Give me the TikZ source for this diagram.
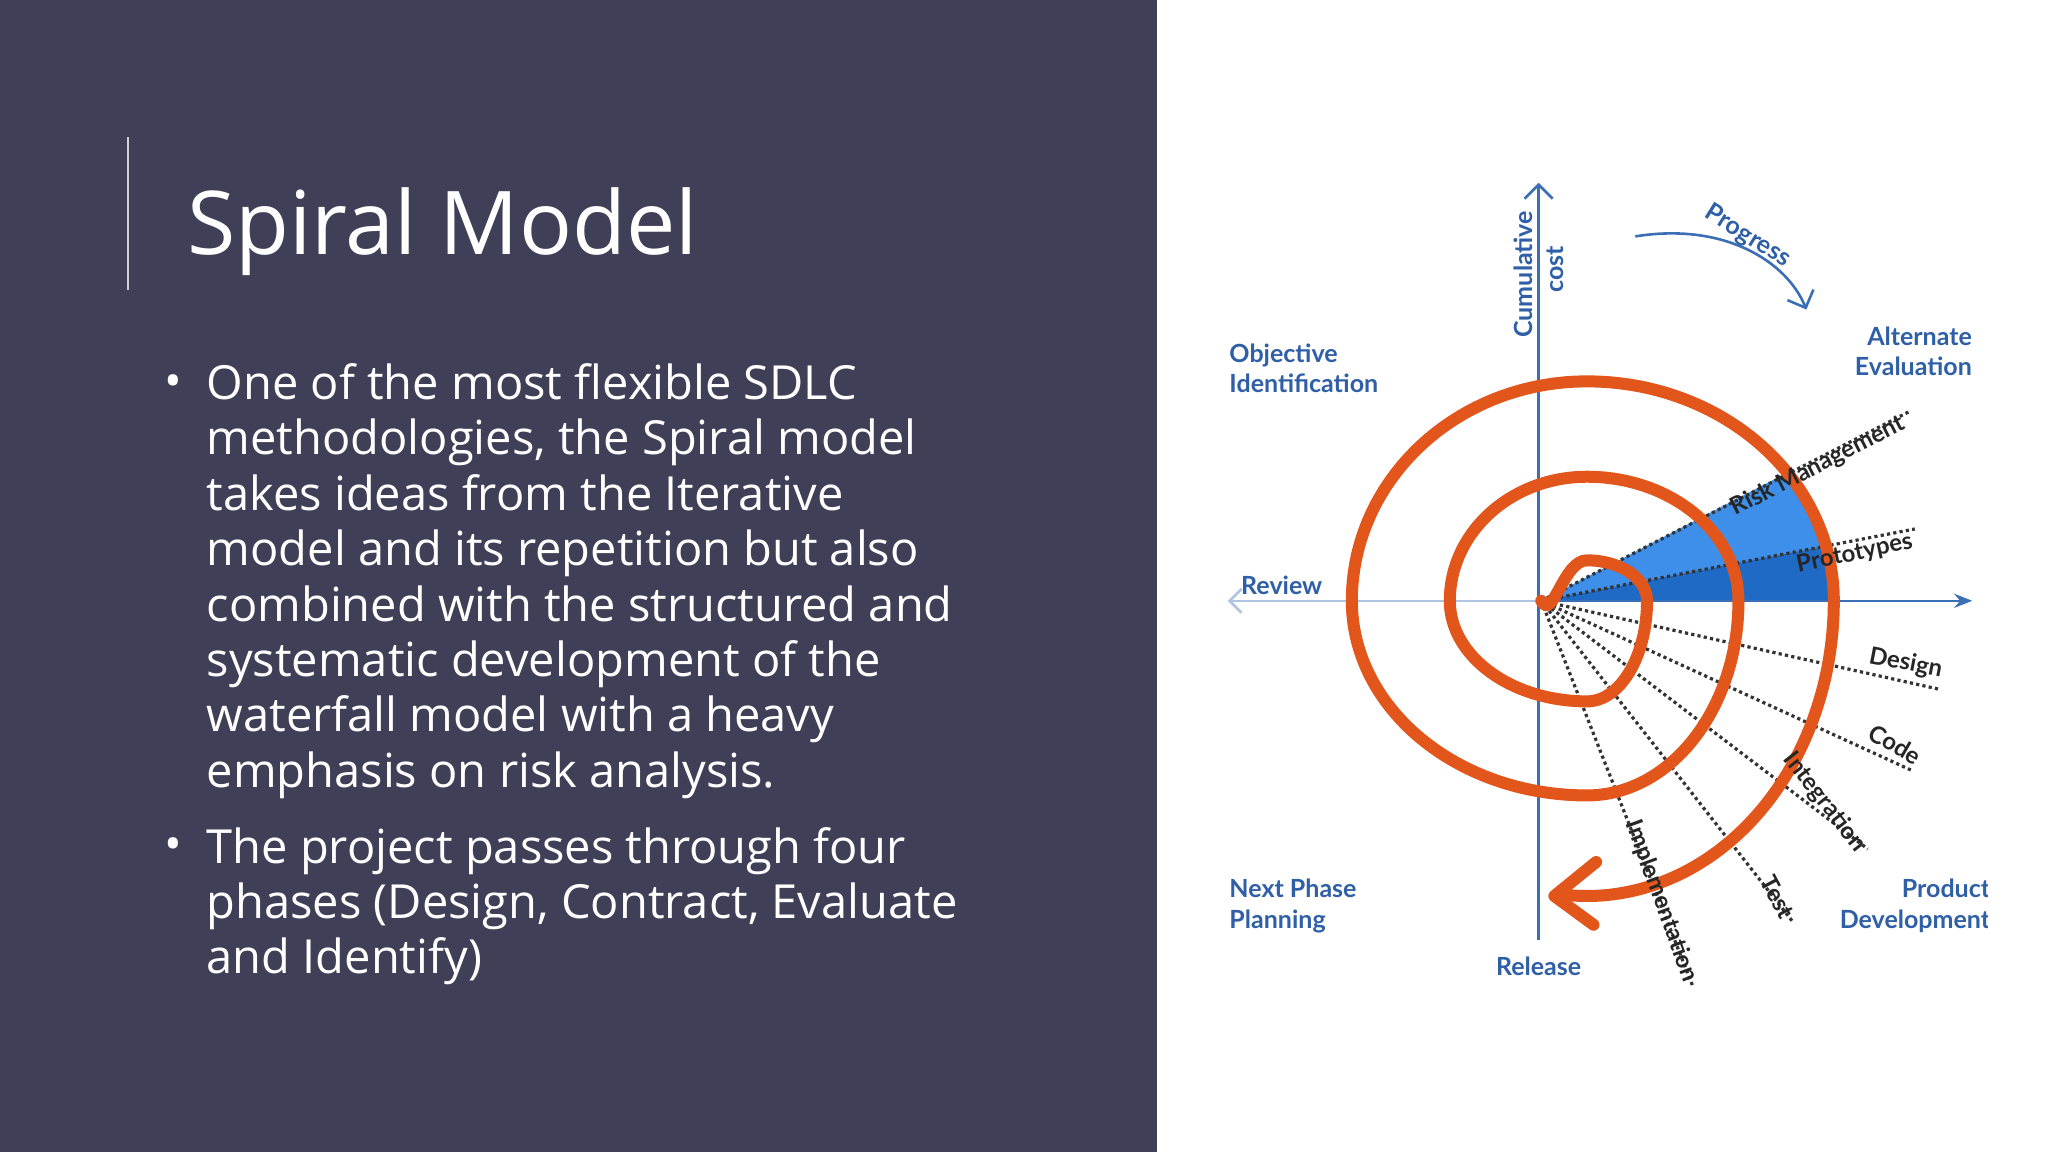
\documentclass[tikz,border=0pt]{standalone}
\usepackage{fontspec}
\setmainfont{Open Sans}
\newfontfamily\lbl{Lato}
\usetikzlibrary{arrows.meta}
\definecolor{slide}{HTML}{3F3F57}
\definecolor{spir}{HTML}{E2561C}
\definecolor{lab}{HTML}{2F5FA6}
\definecolor{axis}{HTML}{3A6FB5}
\definecolor{wedgeA}{HTML}{3D8FEA}
\definecolor{wedgeB}{HTML}{1E6AC4}
\tikzset{
  bl/.style={font=\lbl\bfseries\fontsize{12.5}{15}\selectfont, text=lab, inner sep=0pt, align=left},
  dl/.style={font=\lbl\bfseries\fontsize{12}{14}\selectfont, text=black!85, inner sep=0pt},
  dots/.style={dash pattern=on 1.6pt off 1.6pt, line width=1.6pt, black!80},
  btxt/.style={font=\fontsize{23.5}{27.7}\selectfont, text=white, inner sep=0pt, align=left, anchor=north west}
}
\begin{document}
\begin{tikzpicture}[x=0.653pt,y=-0.653pt]
\useasboundingbox (0,0) rectangle (1568,882);
\fill[white] (0,0) rectangle (1568,882);
\fill[slide] (0,0) rectangle (886,882);
\draw[white!75!slide, line width=1.3pt] (98,105) -- (98,222);
\node[font=\fontsize{44}{52}\selectfont, text=white, inner sep=0pt, anchor=base west] (title) at (143,195) {Spiral Model};
\node[btxt] (b1) at (126,278) {\vphantom{Ag}•};
\node[btxt] (t1) at (158,278) {One of the most flexible SDLC\\methodologies, the Spiral model\\takes ideas from the Iterative\\model and its repetition but also\\combined with the structured and\\systematic development of the\\waterfall model with a heavy\\emphasis on risk analysis.};
\node[btxt] (b2) at (126,633) {\vphantom{Ag}•};
\node[btxt] (t2) at (158,633) {The project passes through four\\phases (Design, Contract, Evaluate\\and Identify)};
% diagram
\begin{scope}
\clip (890,100) rectangle (1522,780);
\coordinate (O) at (1180,460);
% wedges
\fill[wedgeA] (O) -- (1368.4,361.8) arc[start angle=-35.8, end angle=-14.4, x radius=189, y radius=168] -- cycle;
\fill[wedgeB] (O) -- (1397.9,418.1) arc[start angle=-14.4, end angle=0, x radius=189, y radius=168] -- cycle;
% axes
\draw[axis, line width=1.3pt, -{Stealth[length=9pt,width=7pt]}] (O) -- (1510,460);
\draw[axis!40, line width=1.3pt, -{Straight Barb[length=6pt]}] (O) -- (940,460);
\draw[axis, line width=1.3pt, -{Straight Barb[length=7pt]}] (1178,720) -- (1178,140);
% dotted lines
\draw[dots] (O) -- (1462,315);
\draw[dots] (O) -- (1466,405);
\draw[dots] (O) -- (1486,528);
\draw[dots] (O) -- (1464,590);
\draw[dots] (O) -- (1430,650);
\draw[dots] (O) -- (1372,705);
\draw[dots] (O) -- (1296,755);
% spiral
\draw[spir, line width=6pt, line cap=round] (1180,460) to[out=-60,in=180] (1215,429)
  arc[start angle=-90, end angle=0, x radius=46, y radius=31]
  arc[start angle=0, end angle=90, x radius=46, y radius=77]
  arc[start angle=90, end angle=180, x radius=105, y radius=77]
  arc[start angle=180, end angle=270, x radius=105, y radius=95]
  arc[start angle=270, end angle=360, x radius=116, y radius=95]
  arc[start angle=0, end angle=90, x radius=116, y radius=149]
  arc[start angle=90, end angle=180, x radius=180, y radius=149]
  arc[start angle=180, end angle=270, x radius=180, y radius=168]
  arc[start angle=270, end angle=360, x radius=189, y radius=168]
  arc[start angle=0, end angle=96, x radius=189, y radius=226];
\draw[spir, line width=6pt, line cap=round, line join=round] (1222,660) -- (1190,686) -- (1220,708);
% labels
\node[bl, anchor=north west] (oi) at (941,263) {Objective\\Identification};
\node[bl, anchor=north east, align=right] (ae) at (1510,250) {Alternate\\Evaluation};
\node[bl, anchor=west] (rv) at (950,448) {Review};
\node[bl, anchor=north west] (np) at (941,673) {Next Phase\\Planning};
\node[bl, anchor=north east, align=right] (pd) at (1524,673) {Product\\Development};
\node[bl] (rel) at (1178,740) {Release};
\node[bl, rotate=90] (cc) at (1166,210) {Cumulative};
\node[bl, rotate=90] (cs) at (1191,206) {cost};
\node[bl, rotate=-32] (pg) at (1338,181) {Progress};
\draw[axis, line width=1.3pt, -{Straight Barb[length=7pt]}] (1252,181) .. controls (1320,170) and (1368,200) .. (1383,237);
\node[dl, rotate=27] (rm) at (1392,357) {Risk Management};
\node[dl, rotate=12] (pt) at (1420,424) {Prototypes};
\node[dl, rotate=-11] (ds) at (1459,508) {Design};
\node[dl, rotate=-30] (cd) at (1451,570) {Code};
\node[dl, rotate=-52] (ig) at (1397,614) {Integration};
\node[dl, rotate=-62] (ts) at (1361,687) {Test};
\node[dl, rotate=-70] (im) at (1272,690) {Implementation};
\end{scope}
\end{tikzpicture}
\end{document}
